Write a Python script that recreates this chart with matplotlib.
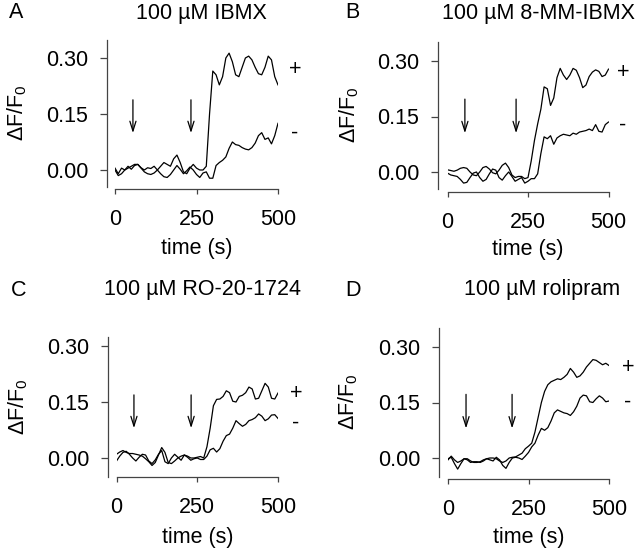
import numpy as np
import matplotlib
matplotlib.use("Agg")
import matplotlib.pyplot as plt

plt.rcParams['font.family'] = ['Liberation Sans', 'DejaVu Sans']
plt.rcParams['mathtext.fontset'] = 'custom'
plt.rcParams['mathtext.rm'] = 'Liberation Sans'
plt.rcParams['mathtext.default'] = 'rm'

# time axis (s)
t = np.arange(0, 501, 10)

titles = ["100 \u00b5M IBMX", "100 \u00b5M 8-MM-IBMX", "100 \u00b5M RO-20-1724", "100 \u00b5M rolipram"]
letters = ["A", "B", "C", "D"]
xticks = [0, 250, 500]
yticks = [0.00, 0.15, 0.30]
ytick_labels = ["0.00", "0.15", "0.30"]

# IBMX
a_plus = [0.000, -0.015, -0.010, 0.000, 0.005, 0.010, 0.015, 0.015, 0.005, -0.005,
          -0.010, -0.012, -0.008, 0.000, 0.010, 0.020, 0.015, 0.010, 0.030, 0.040,
          0.020, -0.005, -0.010, 0.005, 0.015, 0.005, 0.000, 0.000, 0.010, 0.150,
          0.265, 0.255, 0.228, 0.250, 0.300, 0.313, 0.290, 0.255, 0.250, 0.275,
          0.300, 0.305, 0.295, 0.275, 0.258, 0.255, 0.275, 0.305, 0.295, 0.250, 0.228]
a_minus = [0.005, -0.010, 0.005, 0.000, 0.010, 0.002, 0.012, 0.015, 0.006, 0.000,
           0.006, 0.004, 0.010, 0.000, -0.010, -0.018, -0.020, -0.012, 0.000, 0.012,
           0.002, -0.010, -0.002, 0.008, 0.000, -0.012, -0.020, -0.008, -0.005, -0.022,
           -0.022, 0.012, 0.020, 0.026, 0.035, 0.058, 0.075, 0.068, 0.066, 0.060,
           0.056, 0.054, 0.060, 0.072, 0.092, 0.100, 0.082, 0.086, 0.070, 0.092, 0.125]

# 8-MM-IBMX
b_plus = [0.006, 0.004, 0.002, 0.005, 0.010, 0.012, 0.010, 0.000, -0.008, -0.010,
          0.000, 0.012, 0.015, 0.008, -0.002, -0.005, 0.005, 0.018, 0.024, 0.012,
          -0.008, -0.015, -0.012, -0.012, -0.018, -0.015, 0.030, 0.085, 0.130, 0.170,
          0.230, 0.225, 0.180, 0.200, 0.255, 0.280, 0.262, 0.250, 0.262, 0.280,
          0.275, 0.255, 0.228, 0.235, 0.258, 0.270, 0.276, 0.272, 0.258, 0.262, 0.278]
b_minus = [-0.003, -0.008, -0.010, -0.012, -0.020, -0.030, -0.028, -0.015, -0.003, 0.000,
           -0.015, -0.025, -0.020, -0.005, 0.008, 0.005, -0.015, -0.022, -0.010, 0.000,
           -0.012, -0.025, -0.020, -0.015, -0.030, -0.025, -0.018, -0.018, -0.005, 0.050,
           0.095, 0.090, 0.098, 0.075, 0.092, 0.098, 0.102, 0.100, 0.098, 0.105,
           0.102, 0.108, 0.110, 0.112, 0.116, 0.112, 0.128, 0.110, 0.108, 0.128, 0.135]

# RO-20-1724
c_plus = [0.010, 0.016, 0.020, 0.015, 0.012, 0.012, 0.010, 0.008, 0.005, -0.002,
          -0.010, -0.020, -0.012, 0.008, 0.028, 0.015, -0.012, -0.015, -0.008, 0.000,
          0.005, 0.008, 0.005, 0.000, 0.000, 0.002, 0.004, 0.000, 0.030, 0.080,
          0.140, 0.157, 0.158, 0.165, 0.180, 0.175, 0.152, 0.150, 0.165, 0.168,
          0.175, 0.190, 0.185, 0.158, 0.160, 0.180, 0.200, 0.190, 0.160, 0.158, 0.174]
c_minus = [-0.008, 0.005, 0.015, 0.018, 0.010, 0.000, -0.008, 0.002, 0.010, 0.008,
           -0.008, -0.015, -0.005, 0.010, 0.020, -0.010, -0.015, 0.000, 0.010, 0.002,
           -0.006, 0.008, 0.002, -0.006, -0.002, 0.000, -0.004, -0.004, 0.005, 0.022,
           0.026, 0.016, 0.025, 0.045, 0.060, 0.064, 0.080, 0.100, 0.092, 0.085,
           0.090, 0.100, 0.103, 0.108, 0.118, 0.112, 0.100, 0.105, 0.115, 0.116, 0.106]

# rolipram
d_plus = [-0.005, 0.005, -0.005, -0.012, -0.008, -0.002, -0.002, -0.008, -0.012, -0.012,
          -0.010, -0.005, -0.002, 0.000, 0.000, -0.002, -0.008, -0.012, -0.008, 0.000,
          0.002, 0.003, 0.008, 0.013, 0.025, 0.032, 0.040, 0.070, 0.110, 0.150,
          0.180, 0.198, 0.206, 0.210, 0.214, 0.212, 0.218, 0.226, 0.242, 0.232,
          0.218, 0.222, 0.232, 0.246, 0.256, 0.266, 0.264, 0.258, 0.252, 0.256, 0.250]
d_minus = [-0.002, 0.002, -0.015, -0.030, -0.015, -0.002, -0.005, -0.012, -0.010, -0.010,
           -0.012, -0.008, -0.002, -0.005, -0.008, 0.002, -0.005, -0.020, -0.028, -0.012,
           0.000, 0.002, 0.000, -0.004, 0.005, 0.015, 0.030, 0.040, 0.062, 0.080,
           0.075, 0.082, 0.100, 0.122, 0.130, 0.126, 0.122, 0.120, 0.115, 0.125,
           0.140, 0.162, 0.170, 0.168, 0.152, 0.150, 0.160, 0.168, 0.162, 0.152, 0.154]

plus_series = [a_plus, b_plus, c_plus, d_plus]
minus_series = [a_minus, b_minus, c_minus, d_minus]

# arrow (drug addition) times and label positions
arrow_times = [[55, 233], [54, 213], [54, 231], [56, 199]]
arrow_span = [(0.188, 0.099), (0.197, 0.105), (0.169, 0.080), (0.172, 0.080)]
sign_x = [552, 545, 555, 559]
sign_plus_y = [0.270, 0.270, 0.174, 0.244]
sign_minus_y = [0.099, 0.127, 0.094, 0.150]

# layout in pixels: x of t=0, x of t=500, y of 0.00, y of 0.30, axes top, axes bottom,
# x-axis line y, y-axis line x
layout = [
    (115, 278, 170, 58, 40, 187, 189, 107),
    (447.5, 608.5, 172, 61, 42, 189, 192, 438),
    (116.5, 278, 458, 346, 337, 477, 477, 108),
    (448, 609, 458, 347, 328, 477, 479, 439),
]
title_pos = [(201, 13), (539, 13), (203, 290), (542, 290)]
letter_pos = [(16, 13), (352, 13), (19, 290), (353, 290)]
ylabel_pos = [(17, 113), (349, 115), (18, 407), (348, 402)]
xlabel_y = [249, 250, 538, 537]

W, H = 640, 550
fig = plt.figure(figsize=(6.4, 5.5), dpi=100)
fs = 15.5
spine_col = '#444444'

for i in range(4):
    x0, x5, y0, y30, top, bot, xax, yax = layout[i]
    ax = fig.add_axes([x0 / W, 1 - bot / H, (x5 - x0) / W, (bot - top) / H])
    ppu = (y0 - y30) / 0.3
    ax.set_xlim(0, 500)
    ax.set_ylim(-(bot - y0) / ppu, (y0 - top) / ppu)

    ax.plot(t, plus_series[i], color='black', lw=0.9)
    ax.plot(t, minus_series[i], color='black', lw=0.9)

    for at in arrow_times[i]:
        ax.annotate('', xy=(at, arrow_span[i][1]), xytext=(at, arrow_span[i][0]),
                    arrowprops=dict(arrowstyle='->,head_length=0.7,head_width=0.22',
                                    color='black', lw=0.9, shrinkA=0, shrinkB=0))

    ax.text(sign_x[i], sign_plus_y[i], '+', fontsize=fs, ha='center', va='center', clip_on=False)
    ax.text(sign_x[i], sign_minus_y[i], '-', fontsize=fs, ha='center', va='center', clip_on=False)

    for s in ['top', 'right']:
        ax.spines[s].set_visible(False)
    ax.spines['left'].set_position(('outward', (x0 - yax) * 0.72))
    ax.spines['bottom'].set_position(('outward', (xax - bot) * 0.72))
    ax.spines['bottom'].set_bounds(0, 500)
    for s in ['left', 'bottom']:
        ax.spines[s].set_color(spine_col)
        ax.spines[s].set_linewidth(0.9)

    ax.set_xticks(xticks)
    ax.set_xticklabels([str(v) for v in xticks])
    ax.set_yticks(yticks)
    ax.set_yticklabels(ytick_labels)
    ax.tick_params(axis='y', length=5, width=0.9, color=spine_col, pad=8.5, labelsize=fs)
    ax.tick_params(axis='x', length=3.6, width=0.9, color=spine_col, pad=11, labelsize=fs)

    fig.text(title_pos[i][0] / W, 1 - title_pos[i][1] / H, titles[i],
             fontsize=fs, ha='center', va='center')
    fig.text(letter_pos[i][0] / W, 1 - letter_pos[i][1] / H, letters[i],
             fontsize=fs, ha='center', va='center')
    fig.text(ylabel_pos[i][0] / W, 1 - ylabel_pos[i][1] / H, '\u0394F/F$_0$',
             fontsize=fs, ha='center', va='center', rotation=90)
    fig.text((x0 + x5) / 2 / W, 1 - xlabel_y[i] / H, 'time (s)',
             fontsize=fs, ha='center', va='center')

fig.savefig('out.png', dpi=100)
